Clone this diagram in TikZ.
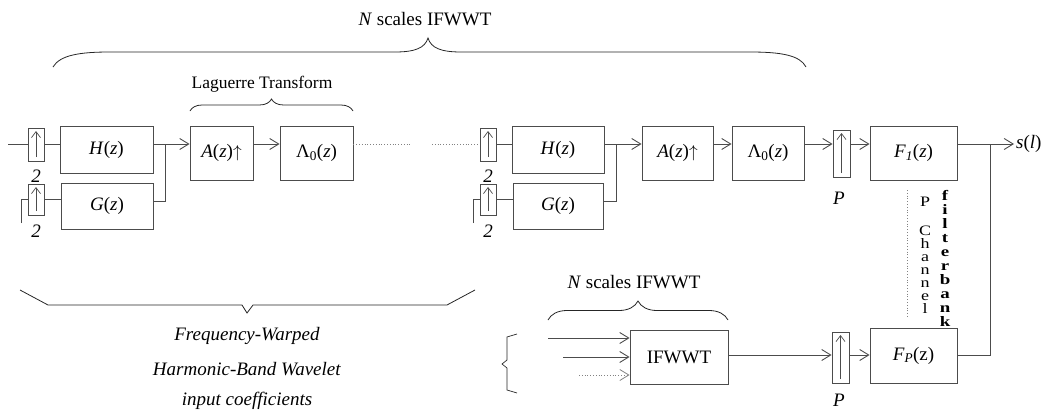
\documentclass[tikz,border=0pt]{standalone}
\usepackage{fontspec}
\usepackage{graphicx}
\setmainfont{Liberation Serif}
\usetikzlibrary{arrows.meta,decorations.pathreplacing,calc}
\definecolor{ln}{rgb}{0.3,0.3,0.3}
\begin{document}
\begin{tikzpicture}[x=1pt,y=-1pt,
  every node/.style={font=\fontsize{19}{22}\selectfont},
  box/.style={draw=ln, line width=0.9pt, inner sep=0pt, rectangle},
  ups/.style={box, minimum width=16pt, path picture={\draw[line width=0.7pt,-{Straight Barb[length=6pt,width=9pt]}] ([yshift=4pt]path picture bounding box.south) -- ([yshift=-3pt]path picture bounding box.north);}},
  wire/.style={draw=ln, line width=0.9pt},
  arr/.style={wire, -{Straight Barb[length=9pt,width=11pt]}},
  dotl/.style={draw=ln!70, line width=0.8pt, dotted},
  brc/.style={draw=black!85, line width=0.8pt},
  vch/.style={anchor=base, inner sep=0pt, font=\fontsize{18}{18}\selectfont},
  vcb/.style={anchor=base, inner sep=0pt, font=\bfseries\fontsize{18}{18}\selectfont},
]
\useasboundingbox (0,0) rectangle (1045,410);
\coordinate (r1) at (0,144);
\coordinate (r2) at (0,355);

% ---- first section ----
\node[ups, minimum height=33pt] (U1) at (36,144.5) {};
\node[ups, minimum height=31pt] (U2) at (36,199.5) {};
\node (t1) at (36,176) {\textit{2}};
\node (t2) at (36,231) {\textit{2}};
\node[box, minimum width=93pt, minimum height=47pt] (H1) at (106.5,149.5) {\textit{H}(\textit{z})};
\node[box, minimum width=92pt, minimum height=46pt] (G1) at (107,206) {\textit{G}(\textit{z})};
\node[box, minimum width=63pt, minimum height=54pt] (A1) at (221.5,153) {\textit{A}(\textit{z})$\uparrow$};
\node[box, minimum width=73pt, minimum height=54pt] (L1) at (316.5,153) {Λ\textsubscript{0}(\textit{z})};

\coordinate (in1) at (8,144);
\coordinate (g1in) at (21,223);
\coordinate (j1t) at (165,144);
\coordinate (j1b) at (165,201);
\draw[wire] (in1) -- (U1.west |- in1);
\draw[wire] (U1.east |- r1) -- (H1.west |- r1);
\draw[wire] (g1in) |- (U2.west);
\draw[wire] (U2.east) -- (G1.west |- U2.east);
\draw[arr] (H1.east |- r1) -- (A1.west |- r1);
\draw[wire] (G1.east |- j1b) -- (j1b) -- (j1t);
\draw[arr] (A1.east |- r1) -- (L1.west |- r1);

\coordinate (d1) at (411,144);
\coordinate (d2) at (432,144);
\draw[dotl] (L1.east |- r1) -- (d1);

% ---- second section ----
\node[ups, minimum height=33pt] (U3) at (488,144.5) {};
\node[ups, minimum height=31pt] (U4) at (488,199.5) {};
\node (t3) at (488,176) {\textit{2}};
\node (t4) at (488,231) {\textit{2}};
\node[box, minimum width=92pt, minimum height=47pt] (H2) at (558,149.5) {\textit{H}(\textit{z})};
\node[box, minimum width=90pt, minimum height=46pt] (G2) at (558,206) {\textit{G}(\textit{z})};
\node[box, minimum width=71pt, minimum height=54pt] (A2) at (677.5,153) {\textit{A}(\textit{z})$\uparrow$};
\node[box, minimum width=72pt, minimum height=54pt] (L2) at (768,153) {Λ\textsubscript{0}(\textit{z})};
\node[ups, minimum width=17pt, minimum height=47pt] (UP1) at (841.5,153.5) {};
\node (p1) at (839,198) {\textit{P}};
\node[box, minimum width=87pt, minimum height=54pt] (F1) at (913.5,153) {\textit{F}\textsubscript{\textit{1}}(\textit{z})};

\coordinate (g2in) at (473,223);
\coordinate (j2t) at (616,144);
\coordinate (j2b) at (616,201);
\draw[dotl] (d2) -- (U3.west |- r1);
\draw[wire] (U3.east |- r1) -- (H2.west |- r1);
\draw[wire] (g2in) |- (U4.west);
\draw[wire] (U4.east) -- (G2.west |- U4.east);
\draw[arr] (H2.east |- r1) -- (A2.west |- r1);
\draw[wire] (G2.east |- j2b) -- (j2b) -- (j2t);
\draw[arr] (A2.east |- r1) -- (L2.west |- r1);
\draw[arr] (L2.east |- r1) -- (UP1.west |- r1);
\draw[arr] (UP1.east |- r1) -- (F1.west |- r1);

% output
\coordinate (jo) at (990,144);
\node[anchor=west, inner sep=0pt] (sl) at (1016,144) {\textit{s}(\textit{l})};
\draw[wire] (F1.east |- r1) -- (jo);
\draw[arr] (jo) -- ([xshift=-2pt]sl.west);

% ---- lower branch ----
\node[box, minimum width=98pt, minimum height=54pt] (IF) at (679,357) {IFWWT};
\node[ups, minimum width=17pt, minimum height=51pt] (UP2) at (840.5,357.5) {};
\node (p2) at (839,400) {\textit{P}};
\node[box, minimum width=87pt, minimum height=55pt] (FP) at (913.5,355.5) {\textit{F}\textsubscript{\textit{P}}(z)};
\draw[arr] (IF.east |- r2) -- (UP2.west |- r2);
\draw[arr] (UP2.east |- r2) -- (FP.west |- r2);
\draw[wire] (FP.east |- r2) -| (jo);

\coordinate (i1) at (548,338);
\coordinate (i2) at (563,357);
\coordinate (i3) at (579,375);
\draw[arr] (i1) -- (IF.west |- i1);
\draw[arr] (i2) -- (IF.west |- i2);
\draw[dotl, -{Straight Barb[length=9pt,width=11pt]}] (i3) -- (IF.west |- i3);

% dotted separator and vertical text
\coordinate (v1) at (907,190);
\coordinate (v2) at (907,318);
\draw[dotl] (v1) -- (v2);
\foreach \c/\yy in {P/206,C/235,h/248,a/261,n/274,n/287,e/300,l/313}
  \node[vch] (pc\yy) at (925,\yy) {\scalebox{1}[0.8]{\c}};
\foreach \c [count=\i from 0] in {f,i,l,t,e,r,b,a,n,k}
  \node[vcb] (fb\i) at (945,{200+14.1*\i}) {\scalebox{1.05}[0.8]{\c}};

% ---- braces and labels ----
\node (nt) at (425,19) {\textit{N} scales IFWWT};
\draw[brc] (53,67) .. controls (60,55) and (80,52) .. (110,52) -- (395,52)
  .. controls (415,52) and (425,48) .. (428,38)
  .. controls (431,48) and (441,52) .. (461,52) -- (750,52)
  .. controls (780,52) and (800,55) .. (806,67);

\node[font=\fontsize{17.5}{20}\selectfont] (lt) at (262,84) {Laguerre Transform};
\draw[brc, decorate, decoration={brace, amplitude=12pt}] (190,111) -- (353,111);

\node (nb) at (634,282) {\textit{N} scales IFWWT};
\draw[brc, decorate, decoration={brace, amplitude=19pt}] (548,320) -- (728,320);

\draw[brc] (20,290) -- (48,305) -- (242,305) -- (247,313) -- (253,305) -- (447,305) -- (475,290);
\node (fw1) at (247,336) {\textit{Frequency-Warped}};
\node (fw2) at (247,369) {\textit{Harmonic-Band Wavelet}};
\node (fw3) at (247,401) {\textit{input coefficients}};

\draw[brc, line width=0.7pt] (517,334) -- (507,337) -- (507,360) -- (502,364) -- (507,368) -- (507,390) -- (517,393);
\end{tikzpicture}
\end{document}
